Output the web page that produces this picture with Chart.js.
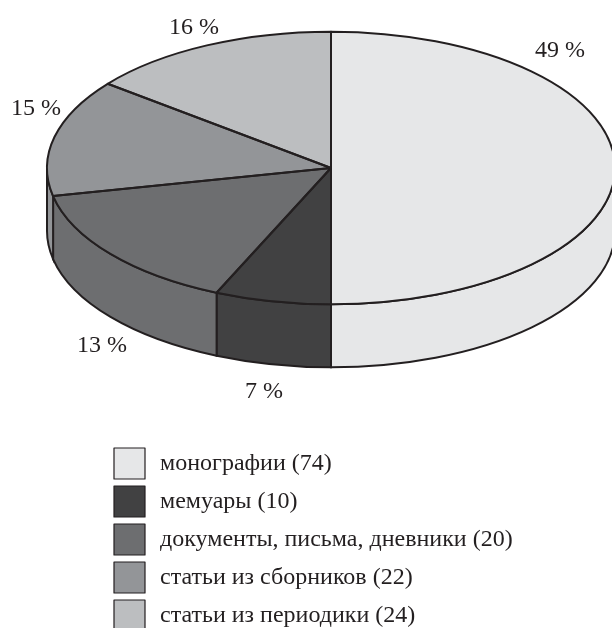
<!DOCTYPE html>
<html lang="ru">
<head>
<meta charset="utf-8">
<title>Источники</title>
<script src="https://cdn.jsdelivr.net/npm/chart.js@4"></script>
<style>
  html, body { margin: 0; padding: 0; background: #fff; overflow: hidden; }
  canvas { display: block; }
</style>
</head>
<body>
<canvas id="grafico" width="612" height="628"></canvas>
<script>
const categorias = ["монографии", "мемуары", "документы, письма, дневники", "статьи из сборников", "статьи из периодики"];
// counts printed in the legend
const cantidades = [74, 10, 20, 22, 24];
// share of the circle each slice takes as drawn in the picture
const sectores = [50, 6.6, 15.1, 13.9, 14.4];
const porcentajes = ["49 %", "7 %", "13 %", "15 %", "16 %"];
const colores = ["#e6e7e8", "#414142", "#6d6e70", "#939598", "#bcbec0"];

const TINTA = "#231f20";
const FUENTE = "24px 'Liberation Serif'";
const RADIO = 284;
const ACHATADO = 0.48;
const CENTRO_Y = 168;
const GROSOR = 63;
// where each percent label sits, same order as porcentajes
const posEtiquetas = [[560, 51], [264, 392], [102, 346], [36, 109], [194, 28]];

function arcos(chart) {
  return chart.getDatasetMeta(0).data;
}

const pastel3d = {
  id: "pastel3d",
  beforeDatasetsDraw(chart) {
    const ctx = chart.ctx;
    // the wall, only the part facing the viewer
    arcos(chart).forEach((arco, i) => {
      const a1 = Math.max(arco.startAngle, 0);
      const a2 = Math.min(arco.endAngle, Math.PI);
      if (a2 <= a1) return;
      ctx.beginPath();
      ctx.ellipse(arco.x, CENTRO_Y + GROSOR, arco.outerRadius, arco.outerRadius * ACHATADO, 0, a1, a2);
      ctx.ellipse(arco.x, CENTRO_Y, arco.outerRadius, arco.outerRadius * ACHATADO, 0, a2, a1, true);
      ctx.closePath();
      ctx.fillStyle = colores[i];
      ctx.fill();
      ctx.lineWidth = 2;
      ctx.strokeStyle = TINTA;
      ctx.stroke();
    });
    // flatten the top of the pie
    ctx.save();
    ctx.translate(0, CENTRO_Y);
    ctx.scale(1, ACHATADO);
    ctx.translate(0, -arcos(chart)[0].y);
  },
  afterDatasetsDraw(chart) {
    const ctx = chart.ctx;
    ctx.restore();
    ctx.lineWidth = 2;
    ctx.strokeStyle = TINTA;
    ctx.lineJoin = "round";
    arcos(chart).forEach((arco) => {
      ctx.beginPath();
      ctx.moveTo(arco.x, CENTRO_Y);
      ctx.ellipse(arco.x, CENTRO_Y, arco.outerRadius, arco.outerRadius * ACHATADO, 0, arco.startAngle, arco.endAngle);
      ctx.closePath();
      ctx.stroke();
    });
  },
  afterDraw(chart) {
    const ctx = chart.ctx;
    ctx.font = FUENTE;
    ctx.fillStyle = TINTA;
    ctx.textBaseline = "middle";

    ctx.textAlign = "center";
    porcentajes.forEach((texto, i) => {
      ctx.fillText(texto, posEtiquetas[i][0], posEtiquetas[i][1]);
    });

    // legend
    ctx.textAlign = "left";
    chart.data.labels.forEach((etiqueta, i) => {
      const y = 448 + i * 38;
      ctx.fillStyle = colores[i];
      ctx.fillRect(114, y, 31, 31);
      ctx.lineWidth = 1.2;
      ctx.strokeStyle = TINTA;
      ctx.strokeRect(114, y, 31, 31);
      ctx.fillStyle = TINTA;
      ctx.fillText(`${etiqueta} (${cantidades[i]})`, 160, y + 16);
    });
  },
};

new Chart(document.getElementById("grafico").getContext("2d"), {
  type: "pie",
  data: {
    labels: categorias,
    datasets: [{ data: sectores, backgroundColor: colores, borderWidth: 0, clip: false }],
  },
  options: {
    responsive: false,
    animation: false,
    radius: RADIO,
    layout: { padding: { left: 50 } },
    plugins: { legend: { display: false }, tooltip: { enabled: false } },
  },
  plugins: [pastel3d],
});
</script>
</body>
</html>
